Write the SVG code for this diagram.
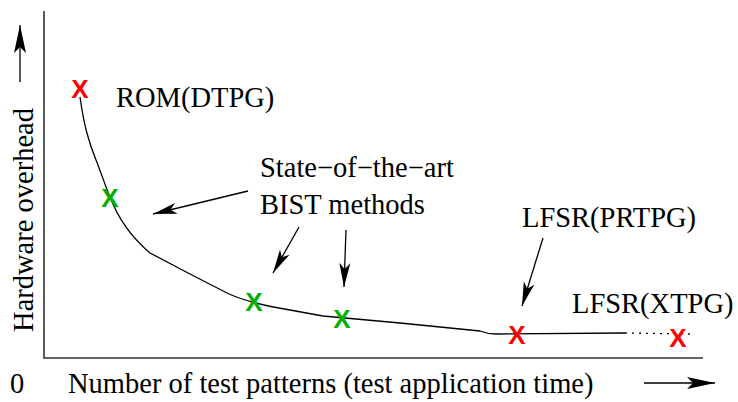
<svg xmlns="http://www.w3.org/2000/svg" width="738" height="402" viewBox="0 0 738 402">
  <defs>
    <marker id="head" viewBox="-26 -7 28 14" refX="0" refY="0" markerWidth="28" markerHeight="14" markerUnits="userSpaceOnUse" orient="auto">
      <path d="M0,0 L-24,-5.5 L-18,0 L-24,5.5 Z" fill="#000"/>
    </marker>
    <marker id="axis-head" viewBox="-30 -8 32 16" refX="0" refY="0" markerWidth="32" markerHeight="16" markerUnits="userSpaceOnUse" orient="auto">
      <path d="M0,0 L-28,-6 L-22,0 L-28,6 Z" fill="#000"/>
    </marker>
  </defs>

  <!-- axes -->
  <g id="axes">
    <path d="M44,11 V358 H703" fill="none" stroke="#333" stroke-width="1.6"/>
  </g>

  <!-- trade-off curve -->
  <g id="curve" fill="none" stroke="#000" stroke-width="1.3">
    <path d="M80,97 C84,125 88,140 96,160 C102,175 106,188 110,197 C118,218 130,236 150,253 L190,274 L229,294 C245,301 265,306 290,310 L323,316 L400,323 L480,331 C485,333 488,334 496,334 L625,333"/>
    <path stroke-dasharray="2,5" d="M625,333 L690,334"/>
  </g>

  <!-- connectors -->
  <g id="connectors" fill="none" stroke="#000" stroke-width="1.3">
    <line x1="20" y1="82" x2="20" y2="25" marker-end="url(#axis-head)"/>
    <line x1="644" y1="383" x2="715" y2="383" marker-end="url(#axis-head)"/>
    <line x1="248" y1="191" x2="153" y2="214" marker-end="url(#head)"/>
    <line x1="299" y1="227" x2="273" y2="273" marker-end="url(#head)"/>
    <line x1="346" y1="230" x2="344" y2="287" marker-end="url(#head)"/>
    <line x1="543" y1="238" x2="522" y2="306" marker-end="url(#head)"/>
  </g>

  <!-- labels -->
  <g id="y-label">
    <text font-family="Liberation Serif" font-size="28.5" transform="translate(33,220) rotate(-90)" text-anchor="middle">Hardware overhead</text>
  </g>
  <g id="x-label">
    <text font-family="Liberation Serif" font-size="28.5" x="10" y="393">0</text>
    <text font-family="Liberation Serif" font-size="28.5" x="68" y="393">Number of test patterns (test application time)</text>
  </g>
  <g id="bist-label">
    <text font-family="Liberation Serif" font-size="28.5" x="260" y="177">State−of−the−art</text>
    <text font-family="Liberation Serif" font-size="28.5" x="260" y="214">BIST methods</text>
  </g>

  <!-- design points -->
  <g id="rom-dtpg">
    <text font-family="Liberation Sans" font-size="26" font-weight="bold" text-anchor="middle" fill="#ff0000" x="80" y="98">X</text>
    <text font-family="Liberation Serif" font-size="28.5" x="116" y="107">ROM(DTPG)</text>
  </g>
  <g id="bist-1">
    <text font-family="Liberation Sans" font-size="26" font-weight="bold" text-anchor="middle" fill="#00b000" x="110" y="207">X</text>
  </g>
  <g id="bist-2">
    <text font-family="Liberation Sans" font-size="26" font-weight="bold" text-anchor="middle" fill="#00b000" x="254" y="311">X</text>
  </g>
  <g id="bist-3">
    <text font-family="Liberation Sans" font-size="26" font-weight="bold" text-anchor="middle" fill="#00b000" x="342" y="328">X</text>
  </g>
  <g id="lfsr-prtpg">
    <text font-family="Liberation Sans" font-size="26" font-weight="bold" text-anchor="middle" fill="#ff0000" x="517" y="344">X</text>
    <text font-family="Liberation Serif" font-size="28.5" x="522" y="227">LFSR(PRTPG)</text>
  </g>
  <g id="lfsr-xtpg">
    <text font-family="Liberation Sans" font-size="26" font-weight="bold" text-anchor="middle" fill="#ff0000" x="678" y="347">X</text>
    <text font-family="Liberation Serif" font-size="28.5" x="572" y="313">LFSR(XTPG)</text>
  </g>
</svg>
